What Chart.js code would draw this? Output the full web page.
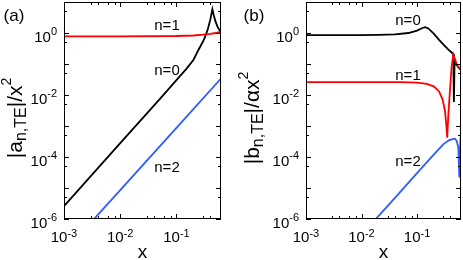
<!DOCTYPE html>
<html>
<head>
<meta charset="utf-8">
<script src="https://cdn.jsdelivr.net/npm/chart.js@4.4.0/dist/chart.umd.min.js"></script>
<style>
  body { margin: 0; background: #fff; }
  canvas { position: absolute; top: 0; }
  #ca { left: 0; }
  #cb { left: 231px; }
</style>
</head>
<body>
<canvas id="ca" width="231" height="260"></canvas>
<canvas id="cb" width="232" height="260"></canvas>
<script>
// axis ranges and tick labels
var xMin = 1e-3, xMax = 0.62, yMin = 1e-6, yMax = 10;
var xLabelExps = [-3, -2, -1];
var yLabelExps = [0, -2, -4, -6];
var xMinorMult = [3, 4, 6, 8];
var yMinorMult = [5];
var seriesNames = ["n=0", "n=1", "n=2"];

// panel (a): |a_n,TE| / x^2
var aN0x = [0.001, 0.01, 0.05, 0.1, 0.15, 0.2, 0.25, 0.3, 0.32, 0.36, 0.4, 0.436, 0.46, 0.49, 0.53, 0.56, 0.62];
var aN0y = [2.6e-6, 2.8e-4, 7.2e-3, 3e-2, 7e-2, 0.135, 0.3, 0.55, 0.72, 1.3, 2.7, 5.8, 3.8, 2.5, 1.7, 1.4, 1.05];
var aN1x = [0.001, 0.01, 0.1, 0.2, 0.3, 0.4, 0.5, 0.56, 0.62];
var aN1y = [0.78, 0.78, 0.8, 0.83, 0.88, 0.93, 1.0, 1.06, 0.98];
var aN2x = [0.002, 0.01, 0.1, 0.62];
var aN2y = [3.4e-7, 8.6e-6, 8.7e-4, 3.4e-2];

// panel (b): |b_n,TE| / (alpha x^2)
var bN0x = [0.001, 0.01, 0.02, 0.04, 0.07, 0.1, 0.125, 0.14, 0.16, 0.2, 0.25, 0.3, 0.36, 0.42, 0.45, 0.462, 0.475, 0.5, 0.55, 0.62];
var bN0y = [0.86, 0.86, 0.87, 0.9, 1.0, 1.2, 1.45, 1.55, 1.4, 0.95, 0.6, 0.42, 0.3, 0.235, 0.21, 0.006, 0.14, 0.1, 0.08, 0.064];
var bN1x = [0.001, 0.01, 0.05, 0.1, 0.15, 0.2, 0.25, 0.29, 0.32, 0.34, 0.35, 0.365, 0.39, 0.42, 0.45, 0.5, 0.52, 0.62];
var bN1y = [0.026, 0.026, 0.026, 0.025, 0.023, 0.019, 0.013, 0.007, 0.003, 0.0009, 0.00042, 0.002, 0.012, 0.08, 0.2, 0.12, 0.095, 0.065];
var bN2x = [0.01, 0.018, 0.03, 0.05, 0.1, 0.2, 0.3, 0.38, 0.44, 0.48, 0.52, 0.555, 0.578, 0.6, 0.62];
var bN2y = [3e-7, 1e-6, 2.7e-6, 7.5e-6, 3e-5, 1.2e-4, 2.6e-4, 3.5e-4, 3.8e-4, 3.9e-4, 3.3e-4, 2e-4, 2.2e-5, 2.5e-4, 7e-4];

var fam = '"Liberation Sans", Arial, Helvetica, sans-serif';

function pts(xs, ys) {
  return xs.map(function (x, i) { return { x: x, y: ys[i] }; });
}

// draws a string made of pieces with their own size and baseline shift
function drawRich(ctx, parts, x, y, align) {
  var w = 0;
  parts.forEach(function (p) {
    ctx.font = p.size + 'px ' + fam;
    p.w = ctx.measureText(p.t).width;
    w += p.w;
  });
  var cx = align === 'right' ? x - w : align === 'center' ? x - w / 2 : x;
  ctx.textAlign = 'left';
  ctx.textBaseline = 'alphabetic';
  parts.forEach(function (p) {
    ctx.font = p.size + 'px ' + fam;
    ctx.fillText(p.t, cx, y + p.dy);
    cx += p.w;
  });
}

var framePlugin = {
  id: 'frame',
  afterDatasetsDraw: function (chart, args, o) {
    var ctx = chart.ctx, a = chart.chartArea;
    var sx = chart.scales.x, sy = chart.scales.y;
    ctx.save();
    ctx.strokeStyle = '#000';
    ctx.fillStyle = '#000';
    ctx.lineWidth = 1;
    ctx.strokeRect(a.left + 0.5, a.top + 0.5, a.right - a.left - 1, a.bottom - a.top - 1);

    ctx.beginPath();
    for (var e = -3; e <= 0; e++) {
      var vals = [[Math.pow(10, e), 5]];
      xMinorMult.forEach(function (m) { vals.push([m * Math.pow(10, e), 3]); });
      vals.forEach(function (v) {
        if (v[0] < xMin || v[0] > xMax) return;
        var px = Math.round(sx.getPixelForValue(v[0])) + 0.5;
        ctx.moveTo(px, a.bottom); ctx.lineTo(px, a.bottom - v[1]);
        ctx.moveTo(px, a.top); ctx.lineTo(px, a.top + v[1]);
      });
    }
    for (var k = -6; k <= 1; k++) {
      var yv = [[Math.pow(10, k), 5]];
      yMinorMult.forEach(function (m) { yv.push([m * Math.pow(10, k), 3]); });
      yv.forEach(function (v) {
        if (v[0] < yMin || v[0] > yMax) return;
        var py = Math.round(sy.getPixelForValue(v[0])) + 0.5;
        ctx.moveTo(a.left, py); ctx.lineTo(a.left + v[1], py);
        ctx.moveTo(a.right, py); ctx.lineTo(a.right - v[1], py);
      });
    }
    ctx.stroke();

    xLabelExps.forEach(function (e) {
      var px = sx.getPixelForValue(Math.pow(10, e));
      drawRich(ctx, [{ t: '10', size: 15, dy: 23 }, { t: String(e), size: 11, dy: 18 }], px, a.bottom, 'center');
    });
    yLabelExps.forEach(function (e) {
      var py = sy.getPixelForValue(Math.pow(10, e));
      drawRich(ctx, [{ t: '10', size: 15, dy: 9 }, { t: String(e), size: 11, dy: 2 }], a.left - 7, py, 'right');
    });

    // axis titles
    drawRich(ctx, [{ t: 'x', size: 19, dy: 0 }], (a.left + a.right) / 2, 258, 'center');
    ctx.save();
    ctx.translate(o.titleX, 118);
    ctx.rotate(-Math.PI / 2);
    drawRich(ctx, o.title, 0, 0, 'center');
    ctx.restore();

    // panel tag and curve labels
    drawRich(ctx, [{ t: o.tag, size: 17, dy: 0 }], o.tagX, 21, 'center');
    o.names.forEach(function (n) {
      drawRich(ctx, [{ t: n[0], size: 15, dy: 0 }], n[1], n[2] + 5, 'center');
    });
    ctx.restore();
  }
};

function makeChart(id, sets, pad, opts) {
  var colors = ['#000000', '#ff0000', '#2f5bff'];
  return new Chart(document.getElementById(id), {
    type: 'line',
    data: {
      datasets: sets.map(function (s, i) {
        return {
          label: seriesNames[i],
          data: pts(s[0], s[1]),
          borderColor: colors[i],
          borderWidth: 1.8,
          pointRadius: 0,
          fill: false,
          tension: 0
        };
      }).reverse()
    },
    options: {
      responsive: false,
      animation: false,
      layout: { padding: pad },
      scales: {
        x: { type: 'logarithmic', min: xMin, max: xMax, display: false },
        y: { type: 'logarithmic', min: yMin, max: yMax, display: false }
      },
      plugins: { legend: { display: false }, tooltip: { enabled: false }, frame: opts }
    },
    plugins: [framePlugin]
  });
}

makeChart('ca', [[aN0x, aN0y], [aN1x, aN1y], [aN2x, aN2y]],
  { left: 64, right: 10, top: 2, bottom: 41 },
  {
    tag: '(a)', tagX: 14, titleX: 14,
    title: [{ t: '|a', size: 21, dy: 8 }, { t: 'n,TE', size: 16, dy: 12 }, { t: '|/x', size: 21, dy: 8 }, { t: '2', size: 14, dy: -3 }],
    names: [['n=1', 167, 25], ['n=0', 167, 70], ['n=2', 167, 167]]
  });

makeChart('cb', [[bN0x, bN0y], [bN1x, bN1y], [bN2x, bN2y]],
  { left: 75, right: 2, top: 2, bottom: 41 },
  {
    tag: '(b)', tagX: 23, titleX: 20,
    title: [{ t: '|b', size: 21, dy: 8 }, { t: 'n,TE', size: 16, dy: 12 }, { t: '|/\u03b1x', size: 21, dy: 8 }, { t: '2', size: 14, dy: -3 }],
    names: [['n=0', 177, 20], ['n=1', 177, 75], ['n=2', 177, 161]]
  });
</script>
</body>
</html>
